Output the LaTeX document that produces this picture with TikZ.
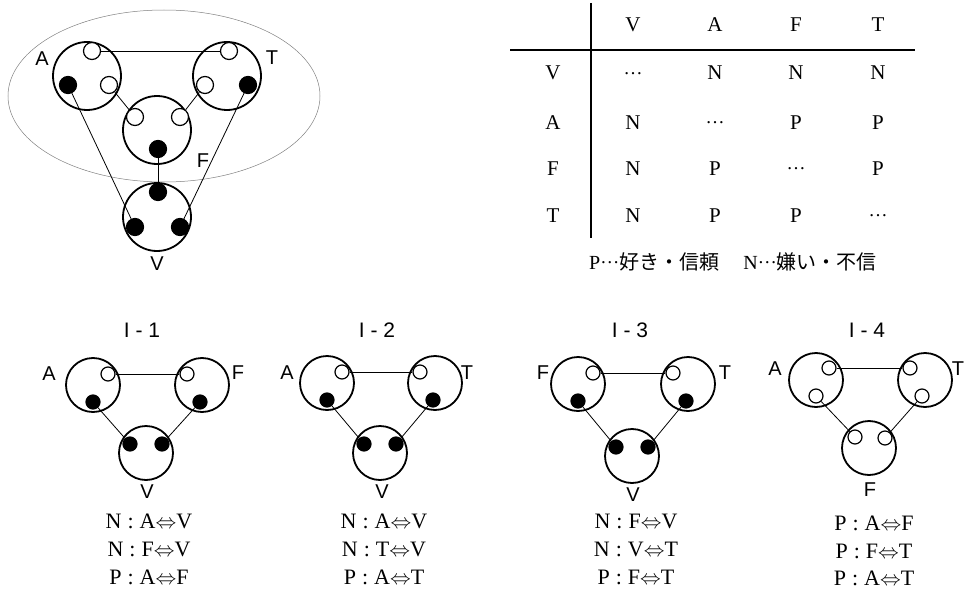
\documentclass[tikz,border=0pt]{standalone}
\usepackage{fontspec}
\setmainfont{Liberation Serif}
\setsansfont{Liberation Sans}
\newfontfamily\jpfont{Noto Sans CJK JP}
\usetikzlibrary{calc,positioning}
\tikzset{
  person/.style={draw=black, line width=1.8pt, circle, minimum size=54pt, inner sep=0pt},
  bigperson/.style={person, minimum size=68pt},
  likedot/.style={draw=black, line width=1.2pt, circle, fill=white, minimum size=14pt, inner sep=0pt},
  hatedot/.style={likedot, fill=black},
  biglike/.style={likedot, minimum size=17pt},
  bighate/.style={hatedot, minimum size=17pt},
  tie/.style={draw=black, line width=0.8pt},
  who/.style={font=\sffamily\fontsize{20}{20}\selectfont, inner sep=0pt, text height=14.5pt, text depth=0pt},
  caseno/.style={who, font=\sffamily\fontsize{21}{21}\selectfont},
  cell/.style={font=\fontsize{21}{21}\selectfont, inner sep=0pt, text height=14pt, text depth=0pt},
  relline/.style={font=\fontsize{22}{22}\selectfont, inner sep=0pt, text height=14.5pt, text depth=0pt},
  groupline/.style={draw=gray, line width=0.5pt}
}
\newcommand{\midots}{\raisebox{5.5pt}{\fontsize{19}{19}\selectfont …}}
\newcommand{\rel}[3]{#1\hspace{6pt}:\hspace{6pt}#2$\Leftrightarrow$#3}

\begin{document}
\begin{tikzpicture}[x=1pt, y=-1pt]
  \useasboundingbox (0,0) rectangle (972,594);

  % all four together
  \draw[groupline] (164,96) ellipse [x radius=156pt, y radius=86pt];
  \node[bigperson] (A) at (87,76) {};
  \node[bigperson] (T) at (227,76) {};
  \node[bigperson] (F) at (157,130) {};
  \node[bigperson] (V) at (157,217) {};
  \node[biglike] (At) at ($(A)+(5,-25)$) {};
  \node[bighate] (Ab) at ($(A)+(-19,9)$) {};
  \node[biglike] (Ar) at ($(A)+(22,9)$) {};
  \node[biglike] (Tt) at ($(T)+(2,-25)$) {};
  \node[biglike] (Tl) at ($(T)+(-22,9)$) {};
  \node[bighate] (Tb) at ($(T)+(21,9)$) {};
  \node[biglike] (Fl) at ($(F)+(-22,-13)$) {};
  \node[biglike] (Fr) at ($(F)+(23,-13)$) {};
  \node[bighate] (Fb) at ($(F)+(1,19)$) {};
  \node[bighate] (Vt) at ($(V)+(1,-25)$) {};
  \node[bighate] (Vl) at ($(V)+(-22,10)$) {};
  \node[bighate] (Vr) at ($(V)+(23,10)$) {};
  \draw[tie] (At) -- (Tt);
  \draw[tie] (Ar) -- (Fl);
  \draw[tie] (Tl) -- (Fr);
  \draw[tie] (Fb) -- (Vt);
  \draw[tie] (Ab) -- (Vl);
  \draw[tie] (Tb) -- (Vr);
  \node[who] (labA) at (42,58) {A};
  \node[who] (labT) at (272,57) {T};
  \node[who] (labF) at (203,160) {F};
  \node[who] (labV) at (157,263) {V};

  % table
  \draw[line width=1.2pt] (591,3) -- (591,238);
  \draw[line width=1.2pt] (510,50) -- (915,50);
  \node[cell] (hV) at (633,25) {V};
  \node[cell] (hA) at (715,25) {A};
  \node[cell] (hF) at (796,25) {F};
  \node[cell] (hT) at (878,25) {T};
  \node[cell] (rV) at (553,73) {V};
  \node[cell] (rA) at (553,122) {A};
  \node[cell] (rF) at (553,168) {F};
  \node[cell] (rT) at (553,215) {T};
  \node[cell] at (633,73) {\midots};
  \node[cell] at (715,73) {N};
  \node[cell] at (796,73) {N};
  \node[cell] at (878,73) {N};
  \node[cell] at (633,122) {N};
  \node[cell] at (715,122) {\midots};
  \node[cell] at (796,122) {P};
  \node[cell] at (878,122) {P};
  \node[cell] at (633,168) {N};
  \node[cell] at (715,168) {P};
  \node[cell] at (796,168) {\midots};
  \node[cell] at (878,168) {P};
  \node[cell] at (633,215) {N};
  \node[cell] at (715,215) {P};
  \node[cell] at (796,215) {P};
  \node[cell] at (878,215) {\midots};
  \node[cell, font=\fontsize{20}{20}\selectfont] (key) at (733,262)
    {P\midots{\jpfont 好き・信頼}\hspace{24pt}N\midots{\jpfont 嫌い・不信}};

  % I-1
  \node[caseno] (t1) at (142,330) {I - 1};
  \node[person] (a1) at (93,385) {};
  \node[person] (f1) at (202,385) {};
  \node[person] (v1) at (146,453) {};
  \node[likedot] (a1p) at ($(a1)+(15,-11)$) {};
  \node[hatedot] (a1n) at ($(a1)+(0,17)$) {};
  \node[likedot] (f1p) at ($(f1)+(-15,-11)$) {};
  \node[hatedot] (f1n) at ($(f1)+(-2,17)$) {};
  \node[hatedot] (v1l) at ($(v1)+(-16,-9)$) {};
  \node[hatedot] (v1r) at ($(v1)+(16,-9)$) {};
  \draw[tie] (a1p) -- (f1p);
  \draw[tie] (a1n) -- (v1l);
  \draw[tie] (f1n) -- (v1r);
  \node[who] at (49,373) {A};
  \node[who] at (238,372) {F};
  \node[who] at (147,491) {V};
  \node[relline] at (149,521) {\rel{N}{A}{V}};
  \node[relline] at (149,549) {\rel{N}{F}{V}};
  \node[relline] at (149,577) {\rel{P}{A}{F}};

  % I-2
  \node[caseno] (t2) at (377,330) {I - 2};
  \node[person] (a2) at (327,383) {};
  \node[person] (t2c) at (435,383) {};
  \node[person] (v2) at (380,453) {};
  \node[likedot] (a2p) at ($(a2)+(15,-11)$) {};
  \node[hatedot] (a2n) at ($(a2)+(0,17)$) {};
  \node[likedot] (t2p) at ($(t2c)+(-15,-11)$) {};
  \node[hatedot] (t2n) at ($(t2c)+(-2,17)$) {};
  \node[hatedot] (v2l) at ($(v2)+(-16,-9)$) {};
  \node[hatedot] (v2r) at ($(v2)+(16,-9)$) {};
  \draw[tie] (a2p) -- (t2p);
  \draw[tie] (a2n) -- (v2l);
  \draw[tie] (t2n) -- (v2r);
  \node[who] at (287,372) {A};
  \node[who] at (467,372) {T};
  \node[who] at (382,491) {V};
  \node[relline] at (384,521) {\rel{N}{A}{V}};
  \node[relline] at (384,549) {\rel{N}{T}{V}};
  \node[relline] at (384,577) {\rel{P}{A}{T}};

  % I-3
  \node[caseno] (t3) at (630,330) {I - 3};
  \node[person] (f3) at (578,384) {};
  \node[person] (t3c) at (688,384) {};
  \node[person] (v3) at (632,456) {};
  \node[likedot] (f3p) at ($(f3)+(15,-11)$) {};
  \node[hatedot] (f3n) at ($(f3)+(0,17)$) {};
  \node[likedot] (t3p) at ($(t3c)+(-15,-11)$) {};
  \node[hatedot] (t3n) at ($(t3c)+(-2,17)$) {};
  \node[hatedot] (v3l) at ($(v3)+(-16,-9)$) {};
  \node[hatedot] (v3r) at ($(v3)+(16,-9)$) {};
  \draw[tie] (f3p) -- (t3p);
  \draw[tie] (f3n) -- (v3l);
  \draw[tie] (t3n) -- (v3r);
  \node[who] at (543,372) {F};
  \node[who] at (725,372) {T};
  \node[who] at (633,494) {V};
  \node[relline] at (636,521) {\rel{N}{F}{V}};
  \node[relline] at (636,549) {\rel{N}{V}{T}};
  \node[relline] at (636,577) {\rel{P}{F}{T}};

  % I-4
  \node[caseno] (t4) at (867,330) {I - 4};
  \node[person] (a4) at (816,380) {};
  \node[person] (t4c) at (925,380) {};
  \node[person] (f4) at (869,448) {};
  \node[likedot] (a4p) at ($(a4)+(13,-12)$) {};
  \node[likedot] (a4q) at ($(a4)+(0,16)$) {};
  \node[likedot] (t4p) at ($(t4c)+(-15,-12)$) {};
  \node[likedot] (t4q) at ($(t4c)+(-3,16)$) {};
  \node[likedot] (f4l) at ($(f4)+(-14,-11)$) {};
  \node[likedot] (f4r) at ($(f4)+(16,-10)$) {};
  \draw[tie] (a4p) -- (t4p);
  \draw[tie] (a4q) -- (f4l);
  \draw[tie] (t4q) -- (f4r);
  \node[who] at (775,368) {A};
  \node[who] at (958,368) {T};
  \node[who] at (870,489) {F};
  \node[relline] at (874,523) {\rel{P}{A}{F}};
  \node[relline] at (874,551) {\rel{P}{F}{T}};
  \node[relline] at (874,578) {\rel{P}{A}{T}};
\end{tikzpicture}
\end{document}
